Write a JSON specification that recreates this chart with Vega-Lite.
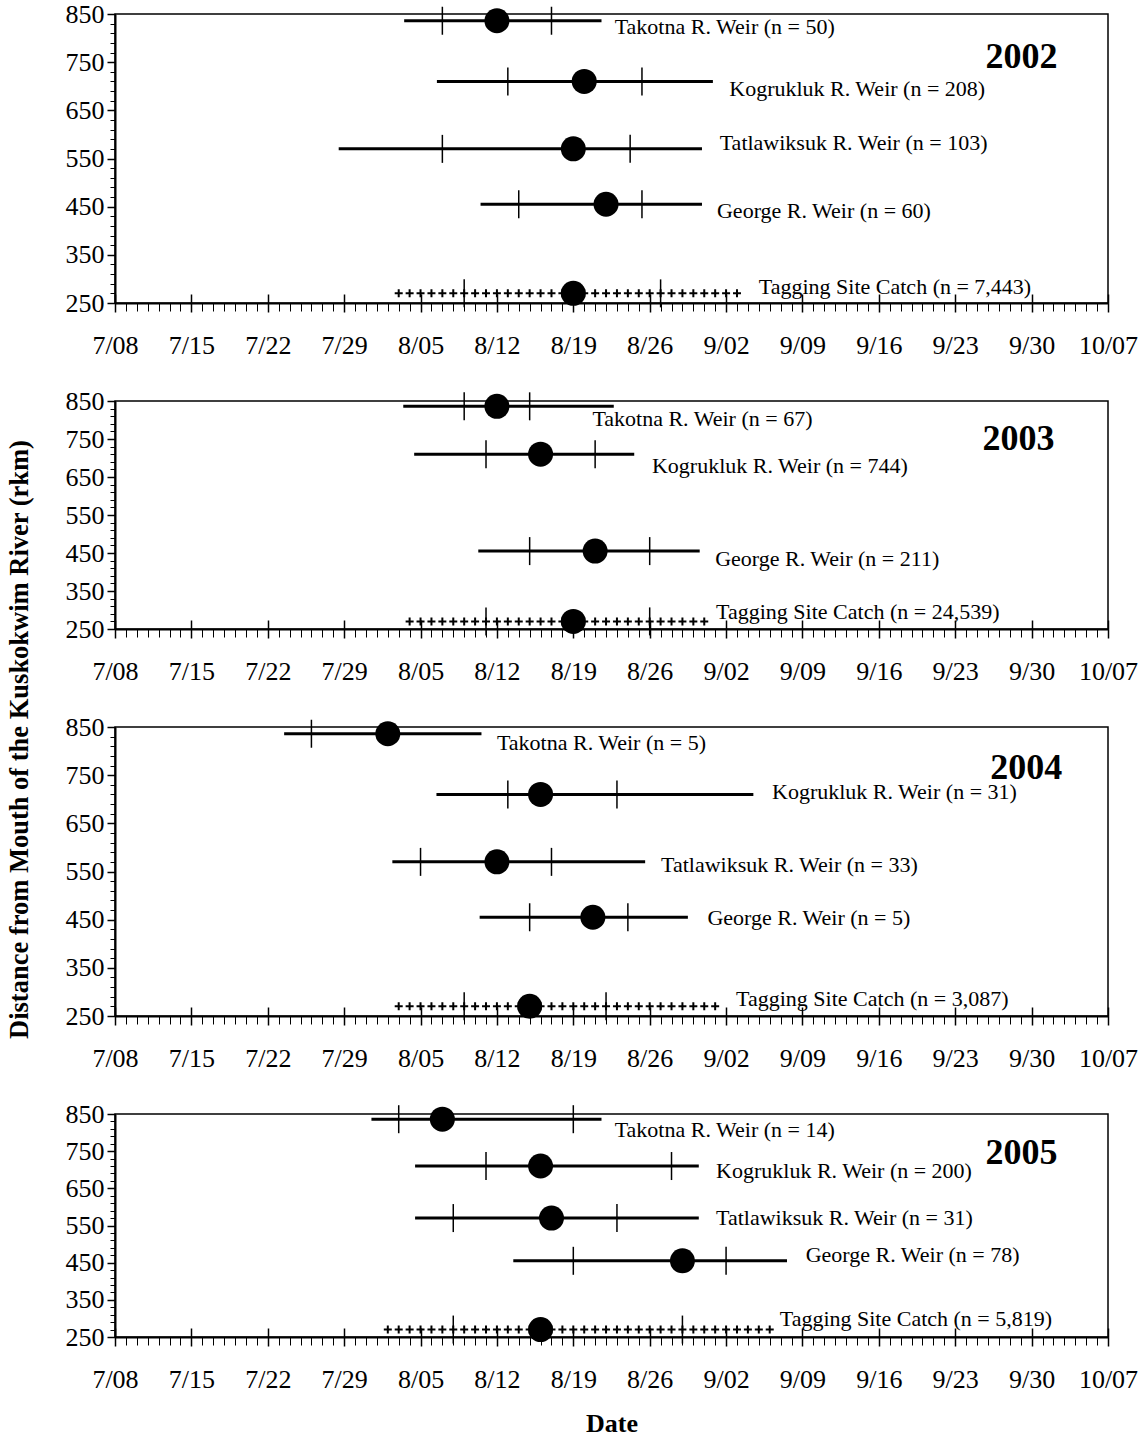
{
  "$schema": "https://vega.github.io/schema/vega-lite/v6.json",
  "background": "white",
  "padding": {"left": 5, "top": 0, "right": 5, "bottom": 5},
  "bounds": "flush",
  "spacing": 98,
  "config": {
    "view": {"stroke": "black", "strokeWidth": 1.5},
    "font": "Liberation Serif",
    "axis": {"labelFont": "Liberation Serif", "titleFont": "Liberation Serif", "labelColor": "black", "titleColor": "black", "tickColor": "black", "domainColor": "black", "grid": false}
  },
  "datasets": {
    "rows": [
      {"year": 2002, "site": "Takotna", "kind": "weir", "rkm": 836, "start": "2002-08-03T12:00", "q1": "2002-08-07T00:00", "median": "2002-08-12T00:00", "q3": "2002-08-17T00:00", "end": "2002-08-21T14:00"},
      {"year": 2002, "site": "Kogrukluk", "kind": "weir", "rkm": 710, "start": "2002-08-06T12:00", "q1": "2002-08-13T00:00", "median": "2002-08-20T00:00", "q3": "2002-08-25T07:00", "end": "2002-08-31T19:00"},
      {"year": 2002, "site": "Tatlawiksuk", "kind": "weir", "rkm": 570, "start": "2002-07-28T12:00", "q1": "2002-08-07T00:00", "median": "2002-08-19T00:00", "q3": "2002-08-24T05:00", "end": "2002-08-30T19:00"},
      {"year": 2002, "site": "George", "kind": "weir", "rkm": 455, "start": "2002-08-10T12:00", "q1": "2002-08-14T00:00", "median": "2002-08-22T00:00", "q3": "2002-08-25T07:00", "end": "2002-08-30T19:00"},
      {"year": 2002, "site": "Tagging site", "kind": "catch", "rkm": 270, "start": "2002-08-03T00:00", "q1": "2002-08-09T00:00", "median": "2002-08-19T00:00", "q3": "2002-08-27T00:00", "end": "2002-09-03T00:00"},
      {"year": 2003, "site": "Takotna", "kind": "weir", "rkm": 836, "start": "2003-08-03T10:00", "q1": "2003-08-09T00:00", "median": "2003-08-12T00:00", "q3": "2003-08-15T00:00", "end": "2003-08-22T17:00"},
      {"year": 2003, "site": "Kogrukluk", "kind": "weir", "rkm": 710, "start": "2003-08-04T10:00", "q1": "2003-08-11T00:00", "median": "2003-08-16T00:00", "q3": "2003-08-21T00:00", "end": "2003-08-24T14:00"},
      {"year": 2003, "site": "George", "kind": "weir", "rkm": 455, "start": "2003-08-10T07:00", "q1": "2003-08-15T00:00", "median": "2003-08-21T00:00", "q3": "2003-08-26T00:00", "end": "2003-08-30T14:00"},
      {"year": 2003, "site": "Tagging site", "kind": "catch", "rkm": 270, "start": "2003-08-04T00:00", "q1": "2003-08-11T00:00", "median": "2003-08-19T00:00", "q3": "2003-08-26T00:00", "end": "2003-08-31T00:00"},
      {"year": 2004, "site": "Takotna", "kind": "weir", "rkm": 836, "start": "2004-07-23T12:00", "q1": "2004-07-26T00:00", "median": "2004-08-02T00:00", "q3": null, "end": "2004-08-10T14:00"},
      {"year": 2004, "site": "Kogrukluk", "kind": "weir", "rkm": 710, "start": "2004-08-06T11:00", "q1": "2004-08-13T00:00", "median": "2004-08-16T00:00", "q3": "2004-08-23T00:00", "end": "2004-09-04T12:00"},
      {"year": 2004, "site": "Tatlawiksuk", "kind": "weir", "rkm": 570, "start": "2004-08-02T10:00", "q1": "2004-08-05T00:00", "median": "2004-08-12T00:00", "q3": "2004-08-17T00:00", "end": "2004-08-25T14:00"},
      {"year": 2004, "site": "George", "kind": "weir", "rkm": 455, "start": "2004-08-10T10:00", "q1": "2004-08-15T00:00", "median": "2004-08-20T19:00", "q3": "2004-08-24T00:00", "end": "2004-08-29T12:00"},
      {"year": 2004, "site": "Tagging site", "kind": "catch", "rkm": 270, "start": "2004-08-03T00:00", "q1": "2004-08-09T00:00", "median": "2004-08-15T00:00", "q3": "2004-08-22T00:00", "end": "2004-09-01T00:00"},
      {"year": 2005, "site": "Takotna", "kind": "weir", "rkm": 836, "start": "2005-07-31T12:00", "q1": "2005-08-03T00:00", "median": "2005-08-07T00:00", "q3": "2005-08-19T00:00", "end": "2005-08-21T14:00"},
      {"year": 2005, "site": "Kogrukluk", "kind": "weir", "rkm": 710, "start": "2005-08-04T12:00", "q1": "2005-08-11T00:00", "median": "2005-08-16T00:00", "q3": "2005-08-28T00:00", "end": "2005-08-30T12:00"},
      {"year": 2005, "site": "Tatlawiksuk", "kind": "weir", "rkm": 570, "start": "2005-08-04T12:00", "q1": "2005-08-08T00:00", "median": "2005-08-17T00:00", "q3": "2005-08-23T00:00", "end": "2005-08-30T12:00"},
      {"year": 2005, "site": "George", "kind": "weir", "rkm": 455, "start": "2005-08-13T12:00", "q1": "2005-08-19T00:00", "median": "2005-08-29T00:00", "q3": "2005-09-02T00:00", "end": "2005-09-07T14:00"},
      {"year": 2005, "site": "Tagging site", "kind": "catch", "rkm": 270, "start": "2005-08-02T00:00", "q1": "2005-08-08T00:00", "median": "2005-08-16T00:00", "q3": "2005-08-29T00:00", "end": "2005-09-06T00:00"}
    ],
    "catch": [
      {"year": 2002, "day": "2002-08-03T00:00", "rkm": 270}, {"year": 2002, "day": "2002-08-04T00:00", "rkm": 270}, {"year": 2002, "day": "2002-08-05T00:00", "rkm": 270}, {"year": 2002, "day": "2002-08-06T00:00", "rkm": 270}, {"year": 2002, "day": "2002-08-07T00:00", "rkm": 270}, {"year": 2002, "day": "2002-08-08T00:00", "rkm": 270}, {"year": 2002, "day": "2002-08-09T00:00", "rkm": 270}, {"year": 2002, "day": "2002-08-10T00:00", "rkm": 270}, {"year": 2002, "day": "2002-08-11T00:00", "rkm": 270}, {"year": 2002, "day": "2002-08-12T00:00", "rkm": 270}, {"year": 2002, "day": "2002-08-13T00:00", "rkm": 270}, {"year": 2002, "day": "2002-08-14T00:00", "rkm": 270}, {"year": 2002, "day": "2002-08-15T00:00", "rkm": 270}, {"year": 2002, "day": "2002-08-16T00:00", "rkm": 270}, {"year": 2002, "day": "2002-08-17T00:00", "rkm": 270}, {"year": 2002, "day": "2002-08-18T00:00", "rkm": 270}, {"year": 2002, "day": "2002-08-19T00:00", "rkm": 270}, {"year": 2002, "day": "2002-08-20T00:00", "rkm": 270}, {"year": 2002, "day": "2002-08-21T00:00", "rkm": 270}, {"year": 2002, "day": "2002-08-22T00:00", "rkm": 270}, {"year": 2002, "day": "2002-08-23T00:00", "rkm": 270}, {"year": 2002, "day": "2002-08-24T00:00", "rkm": 270}, {"year": 2002, "day": "2002-08-25T00:00", "rkm": 270}, {"year": 2002, "day": "2002-08-26T00:00", "rkm": 270}, {"year": 2002, "day": "2002-08-27T00:00", "rkm": 270}, {"year": 2002, "day": "2002-08-28T00:00", "rkm": 270}, {"year": 2002, "day": "2002-08-29T00:00", "rkm": 270}, {"year": 2002, "day": "2002-08-30T00:00", "rkm": 270}, {"year": 2002, "day": "2002-08-31T00:00", "rkm": 270}, {"year": 2002, "day": "2002-09-01T00:00", "rkm": 270}, {"year": 2002, "day": "2002-09-02T00:00", "rkm": 270}, {"year": 2002, "day": "2002-09-03T00:00", "rkm": 270},
      {"year": 2003, "day": "2003-08-04T00:00", "rkm": 270}, {"year": 2003, "day": "2003-08-05T00:00", "rkm": 270}, {"year": 2003, "day": "2003-08-06T00:00", "rkm": 270}, {"year": 2003, "day": "2003-08-07T00:00", "rkm": 270}, {"year": 2003, "day": "2003-08-08T00:00", "rkm": 270}, {"year": 2003, "day": "2003-08-09T00:00", "rkm": 270}, {"year": 2003, "day": "2003-08-10T00:00", "rkm": 270}, {"year": 2003, "day": "2003-08-11T00:00", "rkm": 270}, {"year": 2003, "day": "2003-08-12T00:00", "rkm": 270}, {"year": 2003, "day": "2003-08-13T00:00", "rkm": 270}, {"year": 2003, "day": "2003-08-14T00:00", "rkm": 270}, {"year": 2003, "day": "2003-08-15T00:00", "rkm": 270}, {"year": 2003, "day": "2003-08-16T00:00", "rkm": 270}, {"year": 2003, "day": "2003-08-17T00:00", "rkm": 270}, {"year": 2003, "day": "2003-08-18T00:00", "rkm": 270}, {"year": 2003, "day": "2003-08-19T00:00", "rkm": 270}, {"year": 2003, "day": "2003-08-20T00:00", "rkm": 270}, {"year": 2003, "day": "2003-08-21T00:00", "rkm": 270}, {"year": 2003, "day": "2003-08-22T00:00", "rkm": 270}, {"year": 2003, "day": "2003-08-23T00:00", "rkm": 270}, {"year": 2003, "day": "2003-08-24T00:00", "rkm": 270}, {"year": 2003, "day": "2003-08-25T00:00", "rkm": 270}, {"year": 2003, "day": "2003-08-26T00:00", "rkm": 270}, {"year": 2003, "day": "2003-08-27T00:00", "rkm": 270}, {"year": 2003, "day": "2003-08-28T00:00", "rkm": 270}, {"year": 2003, "day": "2003-08-29T00:00", "rkm": 270}, {"year": 2003, "day": "2003-08-30T00:00", "rkm": 270}, {"year": 2003, "day": "2003-08-31T00:00", "rkm": 270},
      {"year": 2004, "day": "2004-08-03T00:00", "rkm": 270}, {"year": 2004, "day": "2004-08-04T00:00", "rkm": 270}, {"year": 2004, "day": "2004-08-05T00:00", "rkm": 270}, {"year": 2004, "day": "2004-08-06T00:00", "rkm": 270}, {"year": 2004, "day": "2004-08-07T00:00", "rkm": 270}, {"year": 2004, "day": "2004-08-08T00:00", "rkm": 270}, {"year": 2004, "day": "2004-08-09T00:00", "rkm": 270}, {"year": 2004, "day": "2004-08-10T00:00", "rkm": 270}, {"year": 2004, "day": "2004-08-11T00:00", "rkm": 270}, {"year": 2004, "day": "2004-08-12T00:00", "rkm": 270}, {"year": 2004, "day": "2004-08-13T00:00", "rkm": 270}, {"year": 2004, "day": "2004-08-14T00:00", "rkm": 270}, {"year": 2004, "day": "2004-08-15T00:00", "rkm": 270}, {"year": 2004, "day": "2004-08-16T00:00", "rkm": 270}, {"year": 2004, "day": "2004-08-17T00:00", "rkm": 270}, {"year": 2004, "day": "2004-08-18T00:00", "rkm": 270}, {"year": 2004, "day": "2004-08-19T00:00", "rkm": 270}, {"year": 2004, "day": "2004-08-20T00:00", "rkm": 270}, {"year": 2004, "day": "2004-08-21T00:00", "rkm": 270}, {"year": 2004, "day": "2004-08-22T00:00", "rkm": 270}, {"year": 2004, "day": "2004-08-23T00:00", "rkm": 270}, {"year": 2004, "day": "2004-08-24T00:00", "rkm": 270}, {"year": 2004, "day": "2004-08-25T00:00", "rkm": 270}, {"year": 2004, "day": "2004-08-26T00:00", "rkm": 270}, {"year": 2004, "day": "2004-08-27T00:00", "rkm": 270}, {"year": 2004, "day": "2004-08-28T00:00", "rkm": 270}, {"year": 2004, "day": "2004-08-29T00:00", "rkm": 270}, {"year": 2004, "day": "2004-08-30T00:00", "rkm": 270}, {"year": 2004, "day": "2004-08-31T00:00", "rkm": 270}, {"year": 2004, "day": "2004-09-01T00:00", "rkm": 270},
      {"year": 2005, "day": "2005-08-02T00:00", "rkm": 270}, {"year": 2005, "day": "2005-08-03T00:00", "rkm": 270}, {"year": 2005, "day": "2005-08-04T00:00", "rkm": 270}, {"year": 2005, "day": "2005-08-05T00:00", "rkm": 270}, {"year": 2005, "day": "2005-08-06T00:00", "rkm": 270}, {"year": 2005, "day": "2005-08-07T00:00", "rkm": 270}, {"year": 2005, "day": "2005-08-08T00:00", "rkm": 270}, {"year": 2005, "day": "2005-08-09T00:00", "rkm": 270}, {"year": 2005, "day": "2005-08-10T00:00", "rkm": 270}, {"year": 2005, "day": "2005-08-11T00:00", "rkm": 270}, {"year": 2005, "day": "2005-08-12T00:00", "rkm": 270}, {"year": 2005, "day": "2005-08-13T00:00", "rkm": 270}, {"year": 2005, "day": "2005-08-14T00:00", "rkm": 270}, {"year": 2005, "day": "2005-08-15T00:00", "rkm": 270}, {"year": 2005, "day": "2005-08-16T00:00", "rkm": 270}, {"year": 2005, "day": "2005-08-17T00:00", "rkm": 270}, {"year": 2005, "day": "2005-08-18T00:00", "rkm": 270}, {"year": 2005, "day": "2005-08-19T00:00", "rkm": 270}, {"year": 2005, "day": "2005-08-20T00:00", "rkm": 270}, {"year": 2005, "day": "2005-08-21T00:00", "rkm": 270}, {"year": 2005, "day": "2005-08-22T00:00", "rkm": 270}, {"year": 2005, "day": "2005-08-23T00:00", "rkm": 270}, {"year": 2005, "day": "2005-08-24T00:00", "rkm": 270}, {"year": 2005, "day": "2005-08-25T00:00", "rkm": 270}, {"year": 2005, "day": "2005-08-26T00:00", "rkm": 270}, {"year": 2005, "day": "2005-08-27T00:00", "rkm": 270}, {"year": 2005, "day": "2005-08-28T00:00", "rkm": 270}, {"year": 2005, "day": "2005-08-29T00:00", "rkm": 270}, {"year": 2005, "day": "2005-08-30T00:00", "rkm": 270}, {"year": 2005, "day": "2005-08-31T00:00", "rkm": 270}, {"year": 2005, "day": "2005-09-01T00:00", "rkm": 270}, {"year": 2005, "day": "2005-09-02T00:00", "rkm": 270}, {"year": 2005, "day": "2005-09-03T00:00", "rkm": 270}, {"year": 2005, "day": "2005-09-04T00:00", "rkm": 270}, {"year": 2005, "day": "2005-09-05T00:00", "rkm": 270}, {"year": 2005, "day": "2005-09-06T00:00", "rkm": 270}
    ],
    "labels": [
      {"year": 2002, "kind": "site", "text": "Takotna R. Weir (n = 50)", "date": "2002-08-22T19:00", "rkm": 823},
      {"year": 2002, "kind": "site", "text": "Kogrukluk R. Weir (n = 208)", "date": "2002-09-02T07:00", "rkm": 695},
      {"year": 2002, "kind": "site", "text": "Tatlawiksuk R. Weir (n = 103)", "date": "2002-09-01T10:00", "rkm": 582},
      {"year": 2002, "kind": "site", "text": "George R. Weir (n = 60)", "date": "2002-09-01T04:00", "rkm": 442},
      {"year": 2002, "kind": "site", "text": "Tagging Site Catch (n = 7,443)", "date": "2002-09-05T00:00", "rkm": 283},
      {"year": 2002, "kind": "year", "text": "2002", "date": "2002-09-29T02:00", "rkm": 761},
      {"year": 2003, "kind": "site", "text": "Takotna R. Weir (n = 67)", "date": "2003-08-20T18:00", "rkm": 802},
      {"year": 2003, "kind": "site", "text": "Kogrukluk R. Weir (n = 744)", "date": "2003-08-26T05:00", "rkm": 678},
      {"year": 2003, "kind": "site", "text": "George R. Weir (n = 211)", "date": "2003-09-01T00:00", "rkm": 433},
      {"year": 2003, "kind": "site", "text": "Tagging Site Catch (n = 24,539)", "date": "2003-09-01T02:00", "rkm": 294},
      {"year": 2003, "kind": "year", "text": "2003", "date": "2003-09-28T19:00", "rkm": 751},
      {"year": 2004, "kind": "site", "text": "Takotna R. Weir (n = 5)", "date": "2004-08-12T00:00", "rkm": 817},
      {"year": 2004, "kind": "site", "text": "Kogrukluk R. Weir (n = 31)", "date": "2004-09-06T05:00", "rkm": 715},
      {"year": 2004, "kind": "site", "text": "Tatlawiksuk R. Weir (n = 33)", "date": "2004-08-27T01:00", "rkm": 564},
      {"year": 2004, "kind": "site", "text": "George R. Weir (n = 5)", "date": "2004-08-31T07:00", "rkm": 454},
      {"year": 2004, "kind": "site", "text": "Tagging Site Catch (n = 3,087)", "date": "2004-09-02T22:00", "rkm": 286},
      {"year": 2004, "kind": "year", "text": "2004", "date": "2004-09-29T12:00", "rkm": 765},
      {"year": 2005, "kind": "site", "text": "Takotna R. Weir (n = 14)", "date": "2005-08-22T19:00", "rkm": 806},
      {"year": 2005, "kind": "site", "text": "Kogrukluk R. Weir (n = 200)", "date": "2005-09-01T02:00", "rkm": 696},
      {"year": 2005, "kind": "site", "text": "Tatlawiksuk R. Weir (n = 31)", "date": "2005-09-01T02:00", "rkm": 569},
      {"year": 2005, "kind": "site", "text": "George R. Weir (n = 78)", "date": "2005-09-09T07:00", "rkm": 470},
      {"year": 2005, "kind": "site", "text": "Tagging Site Catch (n = 5,819)", "date": "2005-09-06T22:00", "rkm": 299},
      {"year": 2005, "kind": "year", "text": "2005", "date": "2005-09-29T02:00", "rkm": 745}
    ]
  },
  "vconcat": [
    {
      "width": 993, "height": 289,
      "resolve": {"axis": {"x": "independent", "y": "independent"}},
      "layer": [
        {
          "data": {"name": "rows", "format": {"parse": {"start": "date", "q1": "date", "median": "date", "q3": "date", "end": "date"}}},
          "transform": [{"filter": "datum.year == 2002 && datum.kind == 'weir'"}],
          "mark": {"type": "rule", "strokeWidth": 3, "color": "black"},
          "encoding": {
            "x": {"field": "start", "type": "temporal", "scale": {"domain": [{"year": 2002, "month": 7, "date": 8}, {"year": 2002, "month": 10, "date": 7}], "nice": false},
                  "axis": {"orient": "bottom", "tickCount": {"interval": "day", "step": 1}, "labels": false, "domain": true, "domainWidth": 2, "tickSize": 8, "tickWidth": 1, "grid": false, "title": null}},
            "x2": {"field": "end"},
            "y": {"field": "rkm", "type": "quantitative", "scale": {"domain": [250, 850], "nice": false, "zero": false},
                  "axis": {"orient": "left", "values": [250, 270, 290, 310, 330, 350, 370, 390, 410, 430, 450, 470, 490, 510, 530, 550, 570, 590, 610, 630, 650, 670, 690, 710, 730, 750, 770, 790, 810, 830, 850], "labels": false, "tickSize": 5, "tickWidth": 1, "domain": true, "domainWidth": 2, "grid": false, "title": null}}
          }
        },
        {
          "data": {"name": "rows", "format": {"parse": {"start": "date", "q1": "date", "median": "date", "q3": "date", "end": "date"}}},
          "transform": [{"filter": "datum.year == 2002"}],
          "mark": {"type": "point", "shape": "M0,-1L0,1", "size": 784, "filled": false, "strokeWidth": 1.5, "color": "black", "opacity": 1},
          "encoding": {
            "x": {"field": "q1", "type": "temporal", "scale": {"domain": [{"year": 2002, "month": 7, "date": 8}, {"year": 2002, "month": 10, "date": 7}], "nice": false},
                  "axis": {"orient": "bottom", "values": [{"year": 2002, "month": 7, "date": 8}, {"year": 2002, "month": 7, "date": 15}, {"year": 2002, "month": 7, "date": 22}, {"year": 2002, "month": 7, "date": 29}, {"year": 2002, "month": 8, "date": 5}, {"year": 2002, "month": 8, "date": 12}, {"year": 2002, "month": 8, "date": 19}, {"year": 2002, "month": 8, "date": 26}, {"year": 2002, "month": 9, "date": 2}, {"year": 2002, "month": 9, "date": 9}, {"year": 2002, "month": 9, "date": 16}, {"year": 2002, "month": 9, "date": 23}, {"year": 2002, "month": 9, "date": 30}, {"year": 2002, "month": 10, "date": 7}],
                           "format": "%-m/%d", "labelFontSize": 26, "labelPadding": 20, "labelFlush": false, "labelOverlap": false, "tickSize": 9, "tickWidth": 1.5, "domain": false, "grid": false, "title": null}},
            "y": {"field": "rkm", "type": "quantitative", "scale": {"domain": [250, 850], "nice": false, "zero": false},
                  "axis": {"orient": "left", "values": [250, 350, 450, 550, 650, 750, 850], "labelFontSize": 26, "labelPadding": 3, "labelFlush": false, "labelOverlap": false, "tickSize": 8, "tickWidth": 1.5, "domain": false, "grid": false, "title": null}}
          }
        },
        {
          "data": {"name": "rows", "format": {"parse": {"start": "date", "q1": "date", "median": "date", "q3": "date", "end": "date"}}},
          "transform": [{"filter": "datum.year == 2002 && datum.q3 != null"}],
          "mark": {"type": "point", "shape": "M0,-1L0,1", "size": 784, "filled": false, "strokeWidth": 1.5, "color": "black", "opacity": 1},
          "encoding": {
            "x": {"field": "q3", "type": "temporal", "scale": {"domain": [{"year": 2002, "month": 7, "date": 8}, {"year": 2002, "month": 10, "date": 7}], "nice": false},
                  "axis": {"orient": "bottom", "values": [{"year": 2002, "month": 7, "date": 8}, {"year": 2002, "month": 7, "date": 15}, {"year": 2002, "month": 7, "date": 22}, {"year": 2002, "month": 7, "date": 29}, {"year": 2002, "month": 8, "date": 5}, {"year": 2002, "month": 8, "date": 12}, {"year": 2002, "month": 8, "date": 19}, {"year": 2002, "month": 8, "date": 26}, {"year": 2002, "month": 9, "date": 2}, {"year": 2002, "month": 9, "date": 9}, {"year": 2002, "month": 9, "date": 16}, {"year": 2002, "month": 9, "date": 23}, {"year": 2002, "month": 9, "date": 30}, {"year": 2002, "month": 10, "date": 7}],
                           "labels": false, "tickSize": -9, "tickWidth": 1.5, "domain": false, "grid": false, "title": null}},
            "y": {"field": "rkm", "type": "quantitative", "scale": {"domain": [250, 850], "nice": false, "zero": false}, "axis": null}
          }
        },
        {
          "data": {"name": "catch"},
          "transform": [{"filter": "datum.year == 2002"}],
          "mark": {"type": "point", "shape": "M-1,0L1,0M0,-1L0,1", "size": 64, "filled": false, "strokeWidth": 2, "color": "black", "opacity": 1},
          "encoding": {
            "x": {"field": "day", "type": "temporal", "scale": {"domain": [{"year": 2002, "month": 7, "date": 8}, {"year": 2002, "month": 10, "date": 7}], "nice": false}, "axis": null},
            "y": {"field": "rkm", "type": "quantitative", "scale": {"domain": [250, 850], "nice": false, "zero": false}, "axis": null}
          }
        },
        {
          "data": {"name": "rows", "format": {"parse": {"start": "date", "q1": "date", "median": "date", "q3": "date", "end": "date"}}},
          "transform": [{"filter": "datum.year == 2002"}],
          "mark": {"type": "circle", "size": 625, "color": "black", "opacity": 1},
          "encoding": {
            "x": {"field": "median", "type": "temporal", "scale": {"domain": [{"year": 2002, "month": 7, "date": 8}, {"year": 2002, "month": 10, "date": 7}], "nice": false}, "axis": null},
            "y": {"field": "rkm", "type": "quantitative", "scale": {"domain": [250, 850], "nice": false, "zero": false}, "axis": null}
          }
        },
        {
          "data": {"name": "labels"},
          "transform": [{"filter": "datum.year == 2002 && datum.kind == 'site'"}],
          "mark": {"type": "text", "align": "left", "baseline": "middle", "font": "Liberation Serif", "fontSize": 22, "color": "black"},
          "encoding": {
            "x": {"field": "date", "type": "temporal", "scale": {"domain": [{"year": 2002, "month": 7, "date": 8}, {"year": 2002, "month": 10, "date": 7}], "nice": false}, "axis": null},
            "y": {"field": "rkm", "type": "quantitative", "scale": {"domain": [250, 850], "nice": false, "zero": false}, "axis": null},
            "text": {"field": "text"}
          }
        },
        {
          "data": {"name": "labels"},
          "transform": [{"filter": "datum.year == 2002 && datum.kind == 'year'"}],
          "mark": {"type": "text", "align": "center", "baseline": "middle", "font": "Liberation Serif", "fontSize": 36, "fontWeight": "bold", "color": "black"},
          "encoding": {
            "x": {"field": "date", "type": "temporal", "scale": {"domain": [{"year": 2002, "month": 7, "date": 8}, {"year": 2002, "month": 10, "date": 7}], "nice": false}, "axis": null},
            "y": {"field": "rkm", "type": "quantitative", "scale": {"domain": [250, 850], "nice": false, "zero": false}, "axis": null},
            "text": {"field": "text"}
          }
        }
      ]
    },
    {
      "width": 993, "height": 228,
      "resolve": {"axis": {"x": "independent", "y": "independent"}},
      "layer": [
        {
          "data": {"name": "rows", "format": {"parse": {"start": "date", "q1": "date", "median": "date", "q3": "date", "end": "date"}}},
          "transform": [{"filter": "datum.year == 2003 && datum.kind == 'weir'"}],
          "mark": {"type": "rule", "strokeWidth": 3, "color": "black"},
          "encoding": {
            "x": {"field": "start", "type": "temporal", "scale": {"domain": [{"year": 2003, "month": 7, "date": 8}, {"year": 2003, "month": 10, "date": 7}], "nice": false},
                  "axis": {"orient": "bottom", "tickCount": {"interval": "day", "step": 1}, "labels": false, "domain": true, "domainWidth": 2, "tickSize": 8, "tickWidth": 1, "grid": false, "title": null}},
            "x2": {"field": "end"},
            "y": {"field": "rkm", "type": "quantitative", "scale": {"domain": [250, 850], "nice": false, "zero": false},
                  "axis": {"orient": "left", "values": [250, 270, 290, 310, 330, 350, 370, 390, 410, 430, 450, 470, 490, 510, 530, 550, 570, 590, 610, 630, 650, 670, 690, 710, 730, 750, 770, 790, 810, 830, 850], "labels": false, "tickSize": 5, "tickWidth": 1, "domain": true, "domainWidth": 2, "grid": false, "title": null}}
          }
        },
        {
          "data": {"name": "rows", "format": {"parse": {"start": "date", "q1": "date", "median": "date", "q3": "date", "end": "date"}}},
          "transform": [{"filter": "datum.year == 2003"}],
          "mark": {"type": "point", "shape": "M0,-1L0,1", "size": 784, "filled": false, "strokeWidth": 1.5, "color": "black", "opacity": 1},
          "encoding": {
            "x": {"field": "q1", "type": "temporal", "scale": {"domain": [{"year": 2003, "month": 7, "date": 8}, {"year": 2003, "month": 10, "date": 7}], "nice": false},
                  "axis": {"orient": "bottom", "values": [{"year": 2003, "month": 7, "date": 8}, {"year": 2003, "month": 7, "date": 15}, {"year": 2003, "month": 7, "date": 22}, {"year": 2003, "month": 7, "date": 29}, {"year": 2003, "month": 8, "date": 5}, {"year": 2003, "month": 8, "date": 12}, {"year": 2003, "month": 8, "date": 19}, {"year": 2003, "month": 8, "date": 26}, {"year": 2003, "month": 9, "date": 2}, {"year": 2003, "month": 9, "date": 9}, {"year": 2003, "month": 9, "date": 16}, {"year": 2003, "month": 9, "date": 23}, {"year": 2003, "month": 9, "date": 30}, {"year": 2003, "month": 10, "date": 7}],
                           "format": "%-m/%d", "labelFontSize": 26, "labelPadding": 20, "labelFlush": false, "labelOverlap": false, "tickSize": 9, "tickWidth": 1.5, "domain": false, "grid": false, "title": null}},
            "y": {"field": "rkm", "type": "quantitative", "scale": {"domain": [250, 850], "nice": false, "zero": false},
                  "axis": {"orient": "left", "values": [250, 350, 450, 550, 650, 750, 850], "labelFontSize": 26, "labelPadding": 3, "labelFlush": false, "labelOverlap": false, "tickSize": 8, "tickWidth": 1.5, "domain": false, "grid": false, "title": null}}
          }
        },
        {
          "data": {"name": "rows", "format": {"parse": {"start": "date", "q1": "date", "median": "date", "q3": "date", "end": "date"}}},
          "transform": [{"filter": "datum.year == 2003 && datum.q3 != null"}],
          "mark": {"type": "point", "shape": "M0,-1L0,1", "size": 784, "filled": false, "strokeWidth": 1.5, "color": "black", "opacity": 1},
          "encoding": {
            "x": {"field": "q3", "type": "temporal", "scale": {"domain": [{"year": 2003, "month": 7, "date": 8}, {"year": 2003, "month": 10, "date": 7}], "nice": false},
                  "axis": {"orient": "bottom", "values": [{"year": 2003, "month": 7, "date": 8}, {"year": 2003, "month": 7, "date": 15}, {"year": 2003, "month": 7, "date": 22}, {"year": 2003, "month": 7, "date": 29}, {"year": 2003, "month": 8, "date": 5}, {"year": 2003, "month": 8, "date": 12}, {"year": 2003, "month": 8, "date": 19}, {"year": 2003, "month": 8, "date": 26}, {"year": 2003, "month": 9, "date": 2}, {"year": 2003, "month": 9, "date": 9}, {"year": 2003, "month": 9, "date": 16}, {"year": 2003, "month": 9, "date": 23}, {"year": 2003, "month": 9, "date": 30}, {"year": 2003, "month": 10, "date": 7}],
                           "labels": false, "tickSize": -9, "tickWidth": 1.5, "domain": false, "grid": false, "title": null}},
            "y": {"field": "rkm", "type": "quantitative", "scale": {"domain": [250, 850], "nice": false, "zero": false}, "axis": null}
          }
        },
        {
          "data": {"name": "catch"},
          "transform": [{"filter": "datum.year == 2003"}],
          "mark": {"type": "point", "shape": "M-1,0L1,0M0,-1L0,1", "size": 64, "filled": false, "strokeWidth": 2, "color": "black", "opacity": 1},
          "encoding": {
            "x": {"field": "day", "type": "temporal", "scale": {"domain": [{"year": 2003, "month": 7, "date": 8}, {"year": 2003, "month": 10, "date": 7}], "nice": false}, "axis": null},
            "y": {"field": "rkm", "type": "quantitative", "scale": {"domain": [250, 850], "nice": false, "zero": false}, "axis": null}
          }
        },
        {
          "data": {"name": "rows", "format": {"parse": {"start": "date", "q1": "date", "median": "date", "q3": "date", "end": "date"}}},
          "transform": [{"filter": "datum.year == 2003"}],
          "mark": {"type": "circle", "size": 625, "color": "black", "opacity": 1},
          "encoding": {
            "x": {"field": "median", "type": "temporal", "scale": {"domain": [{"year": 2003, "month": 7, "date": 8}, {"year": 2003, "month": 10, "date": 7}], "nice": false}, "axis": null},
            "y": {"field": "rkm", "type": "quantitative", "scale": {"domain": [250, 850], "nice": false, "zero": false}, "axis": null}
          }
        },
        {
          "data": {"name": "labels"},
          "transform": [{"filter": "datum.year == 2003 && datum.kind == 'site'"}],
          "mark": {"type": "text", "align": "left", "baseline": "middle", "font": "Liberation Serif", "fontSize": 22, "color": "black"},
          "encoding": {
            "x": {"field": "date", "type": "temporal", "scale": {"domain": [{"year": 2003, "month": 7, "date": 8}, {"year": 2003, "month": 10, "date": 7}], "nice": false}, "axis": null},
            "y": {"field": "rkm", "type": "quantitative", "scale": {"domain": [250, 850], "nice": false, "zero": false}, "axis": null},
            "text": {"field": "text"}
          }
        },
        {
          "data": {"name": "labels"},
          "transform": [{"filter": "datum.year == 2003 && datum.kind == 'year'"}],
          "mark": {"type": "text", "align": "center", "baseline": "middle", "font": "Liberation Serif", "fontSize": 36, "fontWeight": "bold", "color": "black"},
          "encoding": {
            "x": {"field": "date", "type": "temporal", "scale": {"domain": [{"year": 2003, "month": 7, "date": 8}, {"year": 2003, "month": 10, "date": 7}], "nice": false}, "axis": null},
            "y": {"field": "rkm", "type": "quantitative", "scale": {"domain": [250, 850], "nice": false, "zero": false}, "axis": null},
            "text": {"field": "text"}
          }
        }
      ]
    },
    {
      "width": 993, "height": 289,
      "resolve": {"axis": {"x": "independent", "y": "independent"}},
      "layer": [
        {
          "data": {"name": "rows", "format": {"parse": {"start": "date", "q1": "date", "median": "date", "q3": "date", "end": "date"}}},
          "transform": [{"filter": "datum.year == 2004 && datum.kind == 'weir'"}],
          "mark": {"type": "rule", "strokeWidth": 3, "color": "black"},
          "encoding": {
            "x": {"field": "start", "type": "temporal", "scale": {"domain": [{"year": 2004, "month": 7, "date": 8}, {"year": 2004, "month": 10, "date": 7}], "nice": false},
                  "axis": {"orient": "bottom", "tickCount": {"interval": "day", "step": 1}, "labels": false, "domain": true, "domainWidth": 2, "tickSize": 8, "tickWidth": 1, "grid": false, "title": null}},
            "x2": {"field": "end"},
            "y": {"field": "rkm", "type": "quantitative", "scale": {"domain": [250, 850], "nice": false, "zero": false},
                  "axis": {"orient": "left", "values": [250, 270, 290, 310, 330, 350, 370, 390, 410, 430, 450, 470, 490, 510, 530, 550, 570, 590, 610, 630, 650, 670, 690, 710, 730, 750, 770, 790, 810, 830, 850], "labels": false, "tickSize": 5, "tickWidth": 1, "domain": true, "domainWidth": 2, "grid": false, "title": null}}
          }
        },
        {
          "data": {"name": "rows", "format": {"parse": {"start": "date", "q1": "date", "median": "date", "q3": "date", "end": "date"}}},
          "transform": [{"filter": "datum.year == 2004"}],
          "mark": {"type": "point", "shape": "M0,-1L0,1", "size": 784, "filled": false, "strokeWidth": 1.5, "color": "black", "opacity": 1},
          "encoding": {
            "x": {"field": "q1", "type": "temporal", "scale": {"domain": [{"year": 2004, "month": 7, "date": 8}, {"year": 2004, "month": 10, "date": 7}], "nice": false},
                  "axis": {"orient": "bottom", "values": [{"year": 2004, "month": 7, "date": 8}, {"year": 2004, "month": 7, "date": 15}, {"year": 2004, "month": 7, "date": 22}, {"year": 2004, "month": 7, "date": 29}, {"year": 2004, "month": 8, "date": 5}, {"year": 2004, "month": 8, "date": 12}, {"year": 2004, "month": 8, "date": 19}, {"year": 2004, "month": 8, "date": 26}, {"year": 2004, "month": 9, "date": 2}, {"year": 2004, "month": 9, "date": 9}, {"year": 2004, "month": 9, "date": 16}, {"year": 2004, "month": 9, "date": 23}, {"year": 2004, "month": 9, "date": 30}, {"year": 2004, "month": 10, "date": 7}],
                           "format": "%-m/%d", "labelFontSize": 26, "labelPadding": 20, "labelFlush": false, "labelOverlap": false, "tickSize": 9, "tickWidth": 1.5, "domain": false, "grid": false, "title": null}},
            "y": {"field": "rkm", "type": "quantitative", "scale": {"domain": [250, 850], "nice": false, "zero": false},
                  "axis": {"orient": "left", "values": [250, 350, 450, 550, 650, 750, 850], "labelFontSize": 26, "labelPadding": 3, "labelFlush": false, "labelOverlap": false, "tickSize": 8, "tickWidth": 1.5, "domain": false, "grid": false,
                           "title": "Distance from Mouth of the Kuskokwim River (rkm)", "titleFontSize": 26.5, "titleFontWeight": "bold", "titleY": 12, "titlePadding": 32, "titleLimit": 1000}}
          }
        },
        {
          "data": {"name": "rows", "format": {"parse": {"start": "date", "q1": "date", "median": "date", "q3": "date", "end": "date"}}},
          "transform": [{"filter": "datum.year == 2004 && datum.q3 != null"}],
          "mark": {"type": "point", "shape": "M0,-1L0,1", "size": 784, "filled": false, "strokeWidth": 1.5, "color": "black", "opacity": 1},
          "encoding": {
            "x": {"field": "q3", "type": "temporal", "scale": {"domain": [{"year": 2004, "month": 7, "date": 8}, {"year": 2004, "month": 10, "date": 7}], "nice": false},
                  "axis": {"orient": "bottom", "values": [{"year": 2004, "month": 7, "date": 8}, {"year": 2004, "month": 7, "date": 15}, {"year": 2004, "month": 7, "date": 22}, {"year": 2004, "month": 7, "date": 29}, {"year": 2004, "month": 8, "date": 5}, {"year": 2004, "month": 8, "date": 12}, {"year": 2004, "month": 8, "date": 19}, {"year": 2004, "month": 8, "date": 26}, {"year": 2004, "month": 9, "date": 2}, {"year": 2004, "month": 9, "date": 9}, {"year": 2004, "month": 9, "date": 16}, {"year": 2004, "month": 9, "date": 23}, {"year": 2004, "month": 9, "date": 30}, {"year": 2004, "month": 10, "date": 7}],
                           "labels": false, "tickSize": -9, "tickWidth": 1.5, "domain": false, "grid": false, "title": null}},
            "y": {"field": "rkm", "type": "quantitative", "scale": {"domain": [250, 850], "nice": false, "zero": false}, "axis": null}
          }
        },
        {
          "data": {"name": "catch"},
          "transform": [{"filter": "datum.year == 2004"}],
          "mark": {"type": "point", "shape": "M-1,0L1,0M0,-1L0,1", "size": 64, "filled": false, "strokeWidth": 2, "color": "black", "opacity": 1},
          "encoding": {
            "x": {"field": "day", "type": "temporal", "scale": {"domain": [{"year": 2004, "month": 7, "date": 8}, {"year": 2004, "month": 10, "date": 7}], "nice": false}, "axis": null},
            "y": {"field": "rkm", "type": "quantitative", "scale": {"domain": [250, 850], "nice": false, "zero": false}, "axis": null}
          }
        },
        {
          "data": {"name": "rows", "format": {"parse": {"start": "date", "q1": "date", "median": "date", "q3": "date", "end": "date"}}},
          "transform": [{"filter": "datum.year == 2004"}],
          "mark": {"type": "circle", "size": 625, "color": "black", "opacity": 1},
          "encoding": {
            "x": {"field": "median", "type": "temporal", "scale": {"domain": [{"year": 2004, "month": 7, "date": 8}, {"year": 2004, "month": 10, "date": 7}], "nice": false}, "axis": null},
            "y": {"field": "rkm", "type": "quantitative", "scale": {"domain": [250, 850], "nice": false, "zero": false}, "axis": null}
          }
        },
        {
          "data": {"name": "labels"},
          "transform": [{"filter": "datum.year == 2004 && datum.kind == 'site'"}],
          "mark": {"type": "text", "align": "left", "baseline": "middle", "font": "Liberation Serif", "fontSize": 22, "color": "black"},
          "encoding": {
            "x": {"field": "date", "type": "temporal", "scale": {"domain": [{"year": 2004, "month": 7, "date": 8}, {"year": 2004, "month": 10, "date": 7}], "nice": false}, "axis": null},
            "y": {"field": "rkm", "type": "quantitative", "scale": {"domain": [250, 850], "nice": false, "zero": false}, "axis": null},
            "text": {"field": "text"}
          }
        },
        {
          "data": {"name": "labels"},
          "transform": [{"filter": "datum.year == 2004 && datum.kind == 'year'"}],
          "mark": {"type": "text", "align": "center", "baseline": "middle", "font": "Liberation Serif", "fontSize": 36, "fontWeight": "bold", "color": "black"},
          "encoding": {
            "x": {"field": "date", "type": "temporal", "scale": {"domain": [{"year": 2004, "month": 7, "date": 8}, {"year": 2004, "month": 10, "date": 7}], "nice": false}, "axis": null},
            "y": {"field": "rkm", "type": "quantitative", "scale": {"domain": [250, 850], "nice": false, "zero": false}, "axis": null},
            "text": {"field": "text"}
          }
        }
      ]
    },
    {
      "width": 993, "height": 223,
      "resolve": {"axis": {"x": "independent", "y": "independent"}},
      "layer": [
        {
          "data": {"name": "rows", "format": {"parse": {"start": "date", "q1": "date", "median": "date", "q3": "date", "end": "date"}}},
          "transform": [{"filter": "datum.year == 2005 && datum.kind == 'weir'"}],
          "mark": {"type": "rule", "strokeWidth": 3, "color": "black"},
          "encoding": {
            "x": {"field": "start", "type": "temporal", "scale": {"domain": [{"year": 2005, "month": 7, "date": 8}, {"year": 2005, "month": 10, "date": 7}], "nice": false},
                  "axis": {"orient": "bottom", "tickCount": {"interval": "day", "step": 1}, "labels": false, "domain": true, "domainWidth": 2, "tickSize": 8, "tickWidth": 1, "grid": false, "title": null}},
            "x2": {"field": "end"},
            "y": {"field": "rkm", "type": "quantitative", "scale": {"domain": [250, 850], "nice": false, "zero": false},
                  "axis": {"orient": "left", "values": [250, 270, 290, 310, 330, 350, 370, 390, 410, 430, 450, 470, 490, 510, 530, 550, 570, 590, 610, 630, 650, 670, 690, 710, 730, 750, 770, 790, 810, 830, 850], "labels": false, "tickSize": 5, "tickWidth": 1, "domain": true, "domainWidth": 2, "grid": false, "title": null}}
          }
        },
        {
          "data": {"name": "rows", "format": {"parse": {"start": "date", "q1": "date", "median": "date", "q3": "date", "end": "date"}}},
          "transform": [{"filter": "datum.year == 2005"}],
          "mark": {"type": "point", "shape": "M0,-1L0,1", "size": 784, "filled": false, "strokeWidth": 1.5, "color": "black", "opacity": 1},
          "encoding": {
            "x": {"field": "q1", "type": "temporal", "scale": {"domain": [{"year": 2005, "month": 7, "date": 8}, {"year": 2005, "month": 10, "date": 7}], "nice": false},
                  "axis": {"orient": "bottom", "values": [{"year": 2005, "month": 7, "date": 8}, {"year": 2005, "month": 7, "date": 15}, {"year": 2005, "month": 7, "date": 22}, {"year": 2005, "month": 7, "date": 29}, {"year": 2005, "month": 8, "date": 5}, {"year": 2005, "month": 8, "date": 12}, {"year": 2005, "month": 8, "date": 19}, {"year": 2005, "month": 8, "date": 26}, {"year": 2005, "month": 9, "date": 2}, {"year": 2005, "month": 9, "date": 9}, {"year": 2005, "month": 9, "date": 16}, {"year": 2005, "month": 9, "date": 23}, {"year": 2005, "month": 9, "date": 30}, {"year": 2005, "month": 10, "date": 7}],
                           "format": "%-m/%d", "labelFontSize": 26, "labelPadding": 20, "labelFlush": false, "labelOverlap": false, "tickSize": 9, "tickWidth": 1.5, "domain": false, "grid": false,
                           "title": "Date", "titleFontSize": 26, "titleFontWeight": "bold", "titlePadding": 18}},
            "y": {"field": "rkm", "type": "quantitative", "scale": {"domain": [250, 850], "nice": false, "zero": false},
                  "axis": {"orient": "left", "values": [250, 350, 450, 550, 650, 750, 850], "labelFontSize": 26, "labelPadding": 3, "labelFlush": false, "labelOverlap": false, "tickSize": 8, "tickWidth": 1.5, "domain": false, "grid": false, "title": null}}
          }
        },
        {
          "data": {"name": "rows", "format": {"parse": {"start": "date", "q1": "date", "median": "date", "q3": "date", "end": "date"}}},
          "transform": [{"filter": "datum.year == 2005 && datum.q3 != null"}],
          "mark": {"type": "point", "shape": "M0,-1L0,1", "size": 784, "filled": false, "strokeWidth": 1.5, "color": "black", "opacity": 1},
          "encoding": {
            "x": {"field": "q3", "type": "temporal", "scale": {"domain": [{"year": 2005, "month": 7, "date": 8}, {"year": 2005, "month": 10, "date": 7}], "nice": false},
                  "axis": {"orient": "bottom", "values": [{"year": 2005, "month": 7, "date": 8}, {"year": 2005, "month": 7, "date": 15}, {"year": 2005, "month": 7, "date": 22}, {"year": 2005, "month": 7, "date": 29}, {"year": 2005, "month": 8, "date": 5}, {"year": 2005, "month": 8, "date": 12}, {"year": 2005, "month": 8, "date": 19}, {"year": 2005, "month": 8, "date": 26}, {"year": 2005, "month": 9, "date": 2}, {"year": 2005, "month": 9, "date": 9}, {"year": 2005, "month": 9, "date": 16}, {"year": 2005, "month": 9, "date": 23}, {"year": 2005, "month": 9, "date": 30}, {"year": 2005, "month": 10, "date": 7}],
                           "labels": false, "tickSize": -9, "tickWidth": 1.5, "domain": false, "grid": false, "title": null}},
            "y": {"field": "rkm", "type": "quantitative", "scale": {"domain": [250, 850], "nice": false, "zero": false}, "axis": null}
          }
        },
        {
          "data": {"name": "catch"},
          "transform": [{"filter": "datum.year == 2005"}],
          "mark": {"type": "point", "shape": "M-1,0L1,0M0,-1L0,1", "size": 64, "filled": false, "strokeWidth": 2, "color": "black", "opacity": 1},
          "encoding": {
            "x": {"field": "day", "type": "temporal", "scale": {"domain": [{"year": 2005, "month": 7, "date": 8}, {"year": 2005, "month": 10, "date": 7}], "nice": false}, "axis": null},
            "y": {"field": "rkm", "type": "quantitative", "scale": {"domain": [250, 850], "nice": false, "zero": false}, "axis": null}
          }
        },
        {
          "data": {"name": "rows", "format": {"parse": {"start": "date", "q1": "date", "median": "date", "q3": "date", "end": "date"}}},
          "transform": [{"filter": "datum.year == 2005"}],
          "mark": {"type": "circle", "size": 625, "color": "black", "opacity": 1},
          "encoding": {
            "x": {"field": "median", "type": "temporal", "scale": {"domain": [{"year": 2005, "month": 7, "date": 8}, {"year": 2005, "month": 10, "date": 7}], "nice": false}, "axis": null},
            "y": {"field": "rkm", "type": "quantitative", "scale": {"domain": [250, 850], "nice": false, "zero": false}, "axis": null}
          }
        },
        {
          "data": {"name": "labels"},
          "transform": [{"filter": "datum.year == 2005 && datum.kind == 'site'"}],
          "mark": {"type": "text", "align": "left", "baseline": "middle", "font": "Liberation Serif", "fontSize": 22, "color": "black"},
          "encoding": {
            "x": {"field": "date", "type": "temporal", "scale": {"domain": [{"year": 2005, "month": 7, "date": 8}, {"year": 2005, "month": 10, "date": 7}], "nice": false}, "axis": null},
            "y": {"field": "rkm", "type": "quantitative", "scale": {"domain": [250, 850], "nice": false, "zero": false}, "axis": null},
            "text": {"field": "text"}
          }
        },
        {
          "data": {"name": "labels"},
          "transform": [{"filter": "datum.year == 2005 && datum.kind == 'year'"}],
          "mark": {"type": "text", "align": "center", "baseline": "middle", "font": "Liberation Serif", "fontSize": 36, "fontWeight": "bold", "color": "black"},
          "encoding": {
            "x": {"field": "date", "type": "temporal", "scale": {"domain": [{"year": 2005, "month": 7, "date": 8}, {"year": 2005, "month": 10, "date": 7}], "nice": false}, "axis": null},
            "y": {"field": "rkm", "type": "quantitative", "scale": {"domain": [250, 850], "nice": false, "zero": false}, "axis": null},
            "text": {"field": "text"}
          }
        }
      ]
    }
  ]
}
